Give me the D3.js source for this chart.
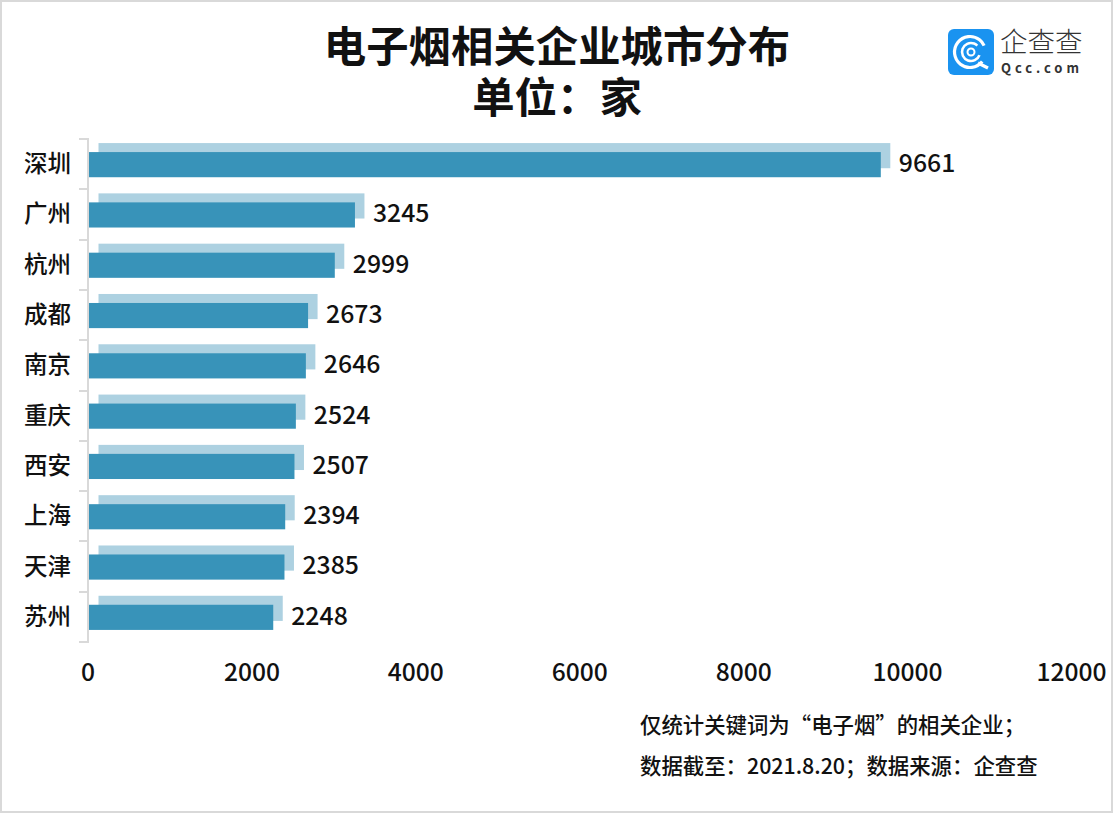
<!DOCTYPE html>
<html lang="zh-CN"><head><meta charset="utf-8">
<script src="https://cdn.jsdelivr.net/npm/d3@7"></script>
<style>
html,body{margin:0;padding:0;background:#fff}
svg{display:block}
text{font-family:"Noto Sans CJK SC","Noto Sans",sans-serif;fill:#111}
</style></head><body><div id="c"></div>
<script>
const cities=["深圳","广州","杭州","成都","南京","重庆","西安","上海","天津","苏州"];
const counts=[9661,3245,2999,2673,2646,2524,2507,2394,2385,2248];
const xTicks=[0,2000,4000,6000,8000,10000,12000];
const titleLines=["电子烟相关企业城市分布","单位\uFF1A家"];
const notes=["仅统计关键词为\u201C电子烟\u201D的相关企业\uFF1B","数据截至\uFF1A2021.8.20\uFF1B数据来源\uFF1A企查查"];
const W=1114,H=814;
const svg=d3.select("#c").append("svg").attr("width",W).attr("height",H);
svg.append("rect").attr("x",1).attr("y",1).attr("width",1111).attr("height",811).attr("fill","#fff").attr("stroke","#d9d9d9").attr("stroke-width",2);
const x=d3.scaleLinear().domain([0,12000]).range([89,1072.5]);
const y=d3.scaleBand().domain(cities).range([139.5,642.5]).paddingInner(0.5).paddingOuter(0.25);
const rows=cities.map((c,i)=>({c,v:counts[i]}));
const off=9.5, oy=9;
svg.append("g").selectAll("rect").data(rows).join("rect")
 .attr("x",x(0)+off).attr("y",d=>y(d.c)-oy).attr("width",d=>x(d.v)-x(0)).attr("height",y.bandwidth()).attr("fill","#add1e1");
svg.append("g").selectAll("rect").data(rows).join("rect")
 .attr("x",x(0)).attr("y",d=>y(d.c)).attr("width",d=>x(d.v)-x(0)).attr("height",y.bandwidth()).attr("fill","#3893b9");
svg.append("g").selectAll("text").data(rows).join("text")
 .attr("x",d=>x(d.v)+18).attr("y",d=>y(d.c)+y.bandwidth()/2-1.5).attr("dy","0.36em").attr("font-size",24.8).attr("font-weight",500).text(d=>d.v);
// y axis
const yAxis=d3.axisLeft(y).tickSize(0).tickPadding(17);
const gy=svg.append("g").attr("transform","translate(88,-0.5)").call(yAxis);
gy.select(".domain").remove();
gy.selectAll("text").attr("font-size",23.5).attr("font-weight",500).style("font-family",'"Noto Sans CJK SC"').attr("dy","0.34em");
const step=y.step();
const edges=d3.range(cities.length+1).map(i=>Math.round(139+i*step));
svg.append("g").selectAll("line").data(edges).join("line").attr("x1",79).attr("x2",88).attr("y1",d=>d).attr("y2",d=>d).attr("stroke","#d9d9d9").attr("stroke-width",2);
svg.append("line").attr("x1",88).attr("x2",88).attr("y1",138).attr("y2",643).attr("stroke","#d9d9d9").attr("stroke-width",2);
// x axis
const gx=svg.append("g").attr("transform","translate(0,642)").call(d3.axisBottom(x).tickValues(xTicks).tickFormat(d3.format("d")).tickSize(0).tickPadding(22));
gx.select(".domain").remove();
gx.selectAll("text").attr("font-size",24.6).attr("font-weight",500).attr("dx",-1.5);
// title
svg.append("g").selectAll("text").data(titleLines).join("text").attr("x",557).attr("y",(d,i)=>62+i*51).attr("text-anchor","middle").attr("font-size",42.4).attr("font-weight",700).text(d=>d);
// notes
svg.append("g").selectAll("text").data(notes).join("text").attr("x",640).attr("y",(d,i)=>733+i*41).attr("font-size",21.4).attr("font-weight",500).text(d=>d);
// logo
const logo=svg.append("g");
logo.append("rect").attr("x",948).attr("y",29).attr("width",46).attr("height",46).attr("rx",6).attr("fill","#1a93f0");
logo.append("circle").attr("cx",970).attr("cy",52).attr("r",15.5).attr("fill","none").attr("stroke","#fff").attr("stroke-width",3.2).attr("stroke-dasharray","80 18").attr("transform","rotate(38 970 52)");
logo.append("circle").attr("cx",971).attr("cy",52).attr("r",9).attr("fill","none").attr("stroke","#fff").attr("stroke-width",2.6).attr("stroke-dasharray","46 11").attr("transform","rotate(20 971 52)");
logo.append("circle").attr("cx",971).attr("cy",52).attr("r",3.5).attr("fill","none").attr("stroke","#fff").attr("stroke-width",2);
logo.append("line").attr("x1",978).attr("y1",63).attr("x2",988).attr("y2",68).attr("stroke","#fff").attr("stroke-width",3.2);
logo.append("text").attr("x",1000).attr("y",52).attr("font-size",27.5).attr("font-weight",300).style("fill","#333").text("企查查");
logo.append("text").attr("x",1001).attr("y",72.5).attr("font-size",13).attr("font-weight",700).attr("letter-spacing",3.9).style("fill","#333").text("Qcc.com");
</script></body></html>
